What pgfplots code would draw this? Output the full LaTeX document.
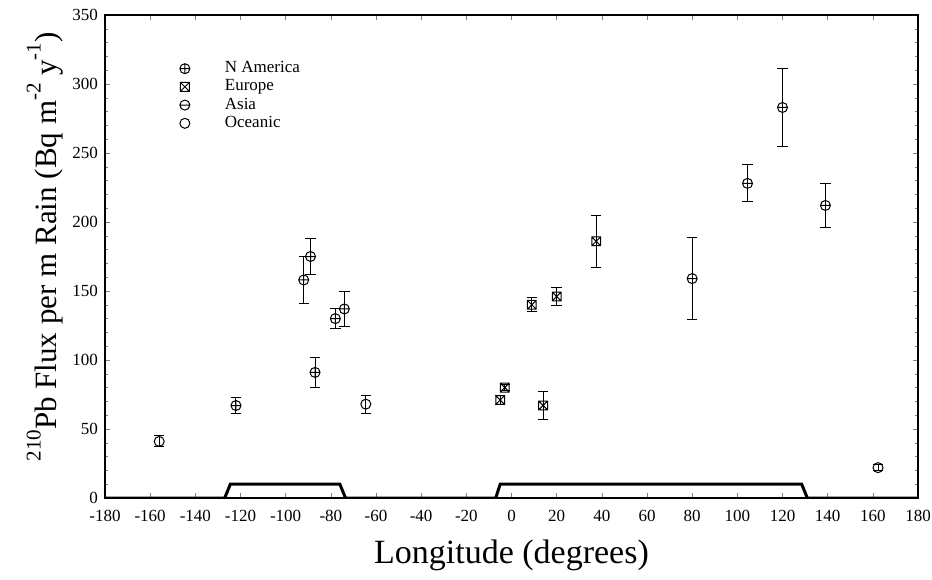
\documentclass[border=0pt]{standalone}
\usepackage{fontspec}
\setmainfont{Liberation Serif}
\usepackage{pgfplots}
\pgfplotsset{compat=1.18}
\newcommand{\sups}[1]{\raisebox{0.5em}{\fontsize{10.5}{10.5}\selectfont #1}}
\pgfdeclareplotmark{ominus}{%
  \pgfpathcircle{\pgfpointorigin}{\pgfplotmarksize}%
  \pgfpathmoveto{\pgfqpoint{-\pgfplotmarksize}{0pt}}%
  \pgfpathlineto{\pgfqpoint{\pgfplotmarksize}{0pt}}%
  \pgfusepathqstroke}
\pgfdeclareplotmark{boxtimes}{%
  \pgfpathrectangle{\pgfqpoint{-\pgfplotmarksize}{-\pgfplotmarksize}}{\pgfqpoint{2\pgfplotmarksize}{2\pgfplotmarksize}}%
  \pgfpathmoveto{\pgfqpoint{-\pgfplotmarksize}{-\pgfplotmarksize}}%
  \pgfpathlineto{\pgfqpoint{\pgfplotmarksize}{\pgfplotmarksize}}%
  \pgfpathmoveto{\pgfqpoint{-\pgfplotmarksize}{\pgfplotmarksize}}%
  \pgfpathlineto{\pgfqpoint{\pgfplotmarksize}{-\pgfplotmarksize}}%
  \pgfusepathqstroke}
\begin{document}
\begin{tikzpicture}
\begin{axis}[
  scale only axis,
  width=406.5pt, height=241.5pt,
  at={(0,0)}, anchor=south west,
  xmin=-180, xmax=180, ymin=0, ymax=350,
  xtick={-180,-160,...,180},
  ytick={0,50,...,350},
  minor y tick num=4,
  tick align=inside,
  major tick length=2.5pt, minor tick length=1.5pt,
  axis line style={line width=0.8pt},
  /pgf/number format/assume math mode=true,
  tick label style={font=\fontsize{8.5}{10}\selectfont},
  xticklabel style={yshift=-2.5pt},
  xlabel={Longitude (degrees)},
  ylabel={\sups{210}Pb Flux per m Rain (Bq m\sups{-2} y\sups{-1})},
  xlabel style={font=\fontsize{17}{20}\selectfont, at={(axis description cs:0.5,-0.118)}, anchor=center},
  ylabel style={font=\fontsize{15.5}{18}\selectfont, at={(axis description cs:-0.074,0.52)}, anchor=center, rotate=0},
  legend style={draw=none, fill=none, font=\fontsize{8.5}{9}\selectfont,
    at={(rel axis cs:0.083,0.921)}, anchor=north west,
    row sep=-2pt, cells={anchor=west}},
  legend cell align=left,
  legend image code/.code={\path[draw=none,fill=none] (-3pt,0pt) -- (18pt,0pt); \draw[#1] plot coordinates {(0pt,0pt)};},
  error bars/y dir=both, error bars/y explicit,
  error bars/error bar style={line width=0.5pt, black},
  error bars/error mark options={rotate=90, mark size=2.6pt, line width=0.5pt},
]
\addplot[only marks, mark=oplus, mark size=2.5pt, black, line width=0.5pt]
  coordinates {
  (-122,67) +- (0,6)
  (-92,158) +- (0,17)
  (-89,175) +- (0,13)
  (-87,91) +- (0,11)
  (-78,130) +- (0,7)
  (-74,137) +- (0,13)
  };
\addlegendentry{N America}
\addplot[only marks, mark=boxtimes, mark size=2.2pt, black, line width=0.5pt]
  coordinates {
  (-5,71) +- (0,3)
  (-3,80) +- (0,2)
  (9,140) +- (0,5)
  (14,67) +- (0,10)
  (20,146) +- (0,6.5)
  (37.5,186) +- (0,19)
  };
\addlegendentry{Europe}
\addplot[only marks, mark=ominus, mark size=2.5pt, black, line width=0.5pt]
  coordinates {
  (80,159) +- (0,30)
  (104.5,228) +- (0,13.5)
  (120,283) +- (0,28)
  (139,212) +- (0,16)
  };
\addlegendentry{Asia}
\addplot[only marks, mark=o, mark size=2.5pt, black, line width=0.5pt]
  coordinates {
  (-156,41) +- (0,4)
  (-64.5,68) +- (0,6.5)
  (162.3,22) +- (0,2)
  };
\addlegendentry{Oceanic}
\addplot[line width=1.5pt, black, no marks, forget plot, error bars/y dir=none]
  coordinates {(-180,0) (-127,0) (-124.5,10) (-76,10) (-73.5,0) (-7,0) (-5,10) (128.5,10) (131,0) (180,0)};
\end{axis}
\pgfresetboundingbox
\useasboundingbox (-52.5pt,-40.5pt) rectangle (413.5pt,249pt);
\end{tikzpicture}
\end{document}
